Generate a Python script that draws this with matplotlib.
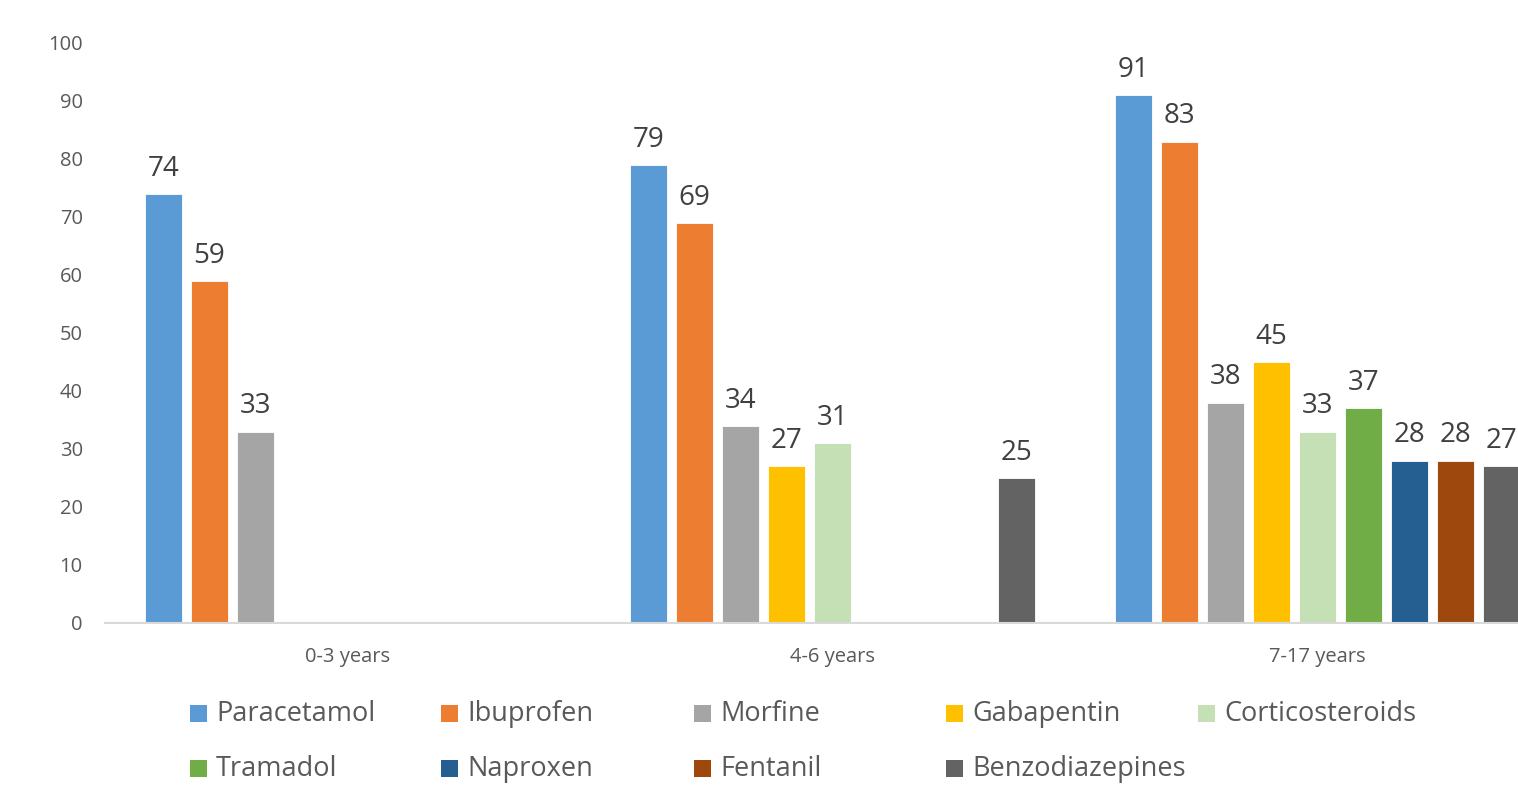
import numpy as np
import matplotlib.pyplot as plt
from matplotlib.patches import Rectangle

plt.rcParams['font.family'] = ['Open Sans', 'DejaVu Sans']

groups = ['0-3 years', '4-6 years', '7-17 years']
series = ['Paracetamol', 'Ibuprofen', 'Morfine', 'Gabapentin', 'Corticosteroids',
          'Tramadol', 'Naproxen', 'Fentanil', 'Benzodiazepines']
nan = np.nan
paracetamol = [74, 79, 91]
ibuprofen = [59, 69, 83]
morfine = [33, 34, 38]
gabapentin = [nan, 27, 45]
corticosteroids = [nan, 31, 33]
tramadol = [nan, nan, 37]
naproxen = [nan, nan, 28]
fentanil = [nan, nan, 28]
benzodiazepines = [nan, 25, 27]
values = [paracetamol, ibuprofen, morfine, gabapentin, corticosteroids,
          tramadol, naproxen, fentanil, benzodiazepines]
colors = ['#5B9BD5', '#ED7D31', '#A5A5A5', '#FFC000', '#C5E0B4',
          '#70AD47', '#255E91', '#9E480E', '#636363']

W, H = 1518, 788
fig = plt.figure(figsize=(W / 100, H / 100), dpi=100)
# plot area runs past the right edge of the picture, as in the reference crop
ax = fig.add_axes([105 / W, 165 / H, (1560 - 105) / W, 580 / H])

x = np.arange(len(groups))
step = 0.095
width = 0.076
for i, (name, vals, c) in enumerate(zip(series, values, colors)):
    pos = x + (i - 4) * step
    ax.bar(pos, vals, width, color=c, edgecolor='white', linewidth=0.6)
    for xp, v in zip(pos, vals):
        if not np.isnan(v):
            ax.annotate(str(int(v)), (xp, v), xytext=(0, 8), textcoords='offset points',
                        ha='center', va='bottom', fontsize=20, color='#404040')

ax.set_xlim(-0.5, 2.5)
ax.set_ylim(0, 100)
ax.set_yticks(range(0, 101, 10))
ax.set_xticks(x)
ax.set_xticklabels(groups)
ax.tick_params(axis='y', length=0, pad=16, labelsize=14.5, labelcolor='#595959')
ax.tick_params(axis='x', length=0, pad=17, labelsize=14.5, labelcolor='#595959')
for s in ['top', 'right', 'left']:
    ax.spines[s].set_visible(False)
ax.spines['bottom'].set_color('#D9D9D9')
ax.spines['bottom'].set_linewidth(1.5)

# legend laid out in equal-width columns like the original
col_x = [190, 441, 694, 946, 1198]
row_y = [713, 768]
for i, (name, c) in enumerate(zip(series, colors)):
    cx = col_x[i % 5]
    cy = row_y[i // 5]
    fig.patches.append(Rectangle(((cx) / W, (H - cy - 9) / H), 17 / W, 17 / H,
                                 transform=fig.transFigure, facecolor=c,
                                 edgecolor='none'))
    fig.text((cx + 26) / W, (H - cy - 1) / H, name, fontsize=19.5, color='#595959',
             va='center', ha='left')

fig.savefig('out.png', dpi=100)
